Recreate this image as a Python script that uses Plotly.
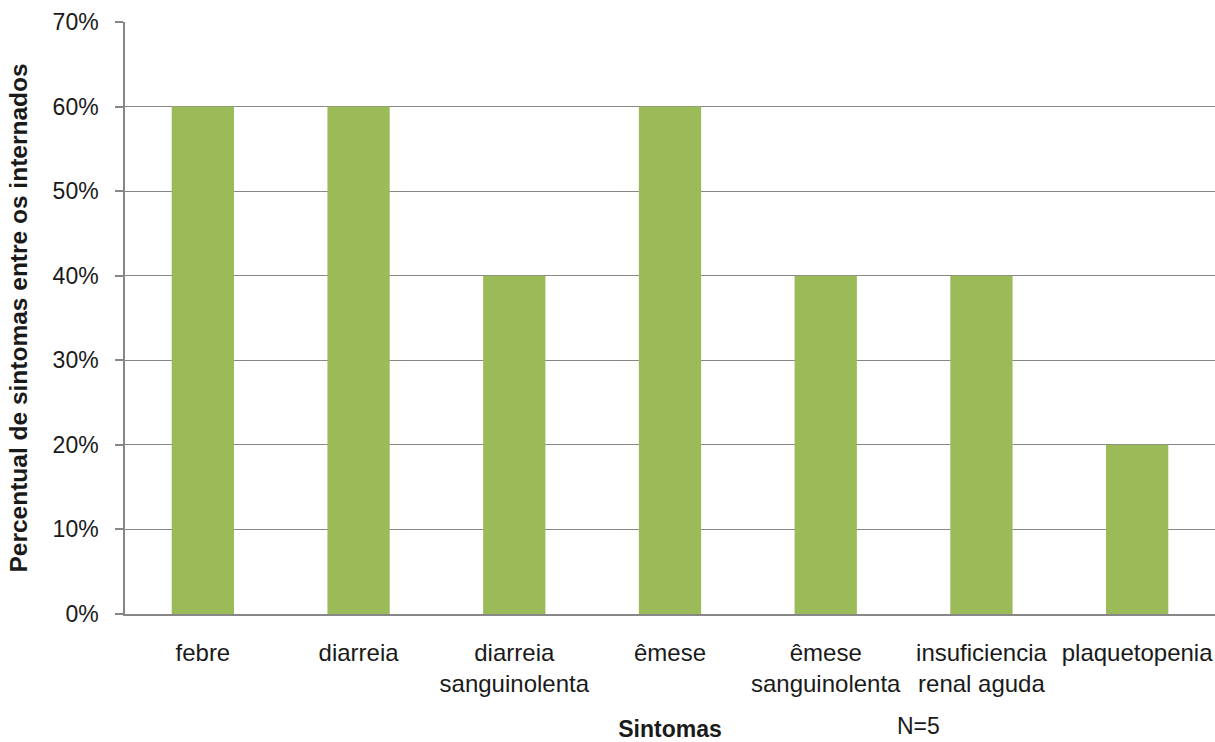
import plotly.graph_objects as go

categories = ["febre", "diarreia", "diarreia<br>sanguinolenta", "êmese",
              "êmese<br>sanguinolenta", "insuficiencia<br>renal aguda", "plaquetopenia"]
values = [0.60, 0.60, 0.40, 0.60, 0.40, 0.40, 0.20]
y_ticks = [0, 0.1, 0.2, 0.3, 0.4, 0.5, 0.6, 0.7]
y_ticklabels = ["0%", "10%", "20%", "30%", "40%", "50%", "60%", "70%"]

grid = "#878787"
font_family = "Liberation Sans, Arial, sans-serif"

fig = go.Figure(go.Bar(x=categories, y=values, marker_color="#9BBB59",
                       marker_line_width=0, width=0.4))

fig.update_layout(
    width=1215, height=742,
    margin=dict(l=125, r=0, t=22, b=128),
    plot_bgcolor="white", paper_bgcolor="white",
    font=dict(family=font_family, size=24, color="#1a1a1a"),
    showlegend=False,
)
fig.update_xaxes(
    showgrid=False, showline=True, linecolor=grid, linewidth=1.5,
    ticks="", ticklabelstandoff=16, tickfont=dict(size=24),
    range=[-0.5, 6.5],
    title=dict(text="<b>Sintomas</b>", font=dict(size=23), standoff=27),
)
fig.update_yaxes(
    range=[0, 0.7], tickvals=y_ticks, ticktext=y_ticklabels,
    showgrid=True, gridcolor=grid, gridwidth=1,
    showline=True, linecolor=grid, linewidth=1.5,
    ticks="outside", ticklen=8, tickcolor=grid, tickwidth=1.5,
    ticklabelstandoff=12, zeroline=False,
    tickfont=dict(size=23),
    title=dict(text="<b>Percentual de sintomas entre os internados</b>",
               font=dict(size=24.5), standoff=18),
)
fig.add_annotation(text="N=5", xref="paper", yref="paper", x=(918 - 125) / 1090,
                   y=-(726 - 614) / 592, showarrow=False, font=dict(size=23),
                   xanchor="center", yanchor="middle")

fig.write_html("out.html")
